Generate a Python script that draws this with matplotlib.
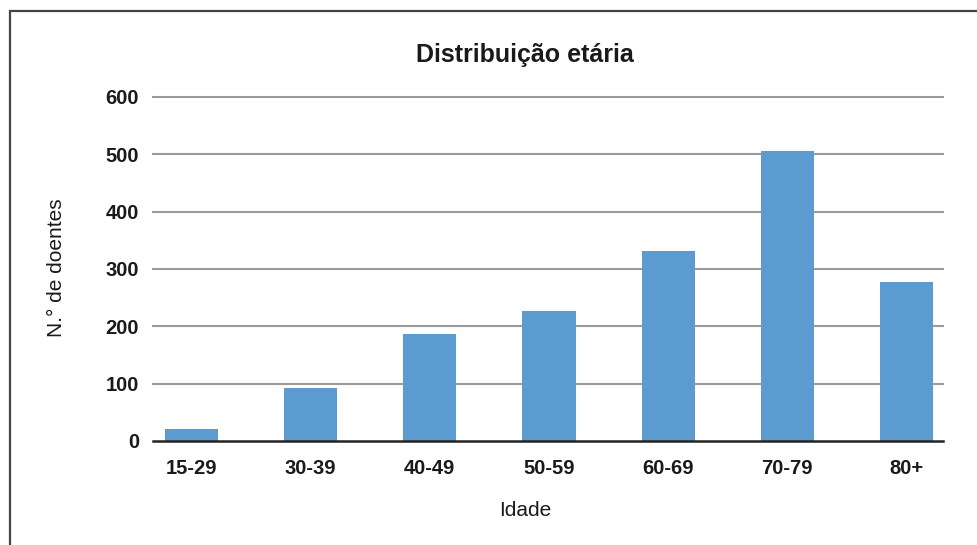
import numpy as np
import matplotlib.pyplot as plt
from matplotlib.patches import Rectangle

faixas = ['15-29', '30-39', '40-49', '50-59', '60-69', '70-79', '80+']
doentes = [21, 93, 187, 227, 332, 505, 278]
yticks = [0, 100, 200, 300, 400, 500, 600]

W, H = 978, 545
plt.rcParams['font.family'] = ['Liberation Sans', 'DejaVu Sans']

fig = plt.figure(figsize=(W / 100, H / 100), dpi=100)

# moldura (so o topo e a esquerda ficam visiveis)
fig.patches.append(Rectangle((9.5 / W, -0.1), 1.2, 1 - 11 / H + 0.1,
                             transform=fig.transFigure, fill=False,
                             edgecolor='#444444', linewidth=1.6))

ax = fig.add_axes([153 / W, 1 - 441 / H, (943 - 153) / W, (441 - 97) / H])
x = np.arange(len(faixas))
ax.bar(x, doentes, width=0.445, color='#5b9bd0', zorder=2)

ax.set_xlim(-0.323, 6.306)
ax.set_ylim(0, 600)
ax.set_yticks(yticks)
ax.set_xticks(x)
ax.set_xticklabels(faixas, fontweight='bold', fontsize=14.5, color='#1a1a1a')
ax.set_yticklabels([str(v) for v in yticks], fontweight='bold', fontsize=14.5,
                   color='#1a1a1a')
ax.tick_params(length=0)
ax.tick_params(axis='x', pad=13)
ax.tick_params(axis='y', pad=10)

for v in yticks[1:]:
    ax.axhline(v, color='#9a9a9c', linewidth=1.5, zorder=1, clip_on=False)
ax.axhline(0, color='#222222', linewidth=1.8, zorder=3, clip_on=False)

for s in ax.spines.values():
    s.set_visible(False)

fig.text(525 / W, 1 - 55 / H, 'Distribuição etária', ha='center', va='center',
         fontsize=18, fontweight='bold', color='#1a1a1a')
fig.text(525 / W, 1 - 511 / H, 'Idade', ha='center', va='center',
         fontsize=15, color='#1a1a1a')
fig.text(57 / W, 1 - 268 / H, 'N.° de doentes', ha='center', va='center',
         rotation=90, fontsize=15, color='#1a1a1a')

fig.savefig('out.png', dpi=100)
